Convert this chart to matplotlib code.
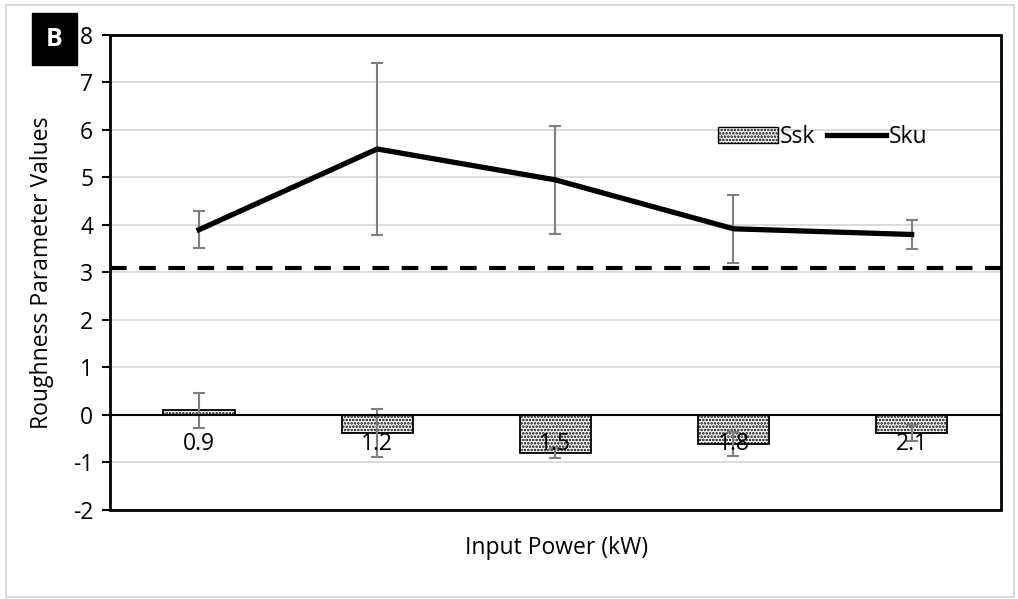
import matplotlib.pyplot as plt
from matplotlib.patches import Rectangle, Patch
from matplotlib.lines import Line2D

plt.rcParams['font.family'] = ['Open Sans', 'DejaVu Sans']
plt.rcParams['hatch.linewidth'] = 1.25

# data
power = ['0.9', '1.2', '1.5', '1.8', '2.1']
ssk = [0.10, -0.38, -0.80, -0.61, -0.38]
ssk_err = [0.37, 0.51, 0.11, 0.25, 0.16]
sku = [3.90, 5.60, 4.95, 3.92, 3.80]
sku_err = [0.39, 1.82, 1.13, 0.72, 0.30]
sku_ref = 3.1
yticks = [-2, -1, 0, 1, 2, 3, 4, 5, 6, 7, 8]

fs = 16.5

fig = plt.figure(figsize=(10.18, 5.99), dpi=100)
ax = fig.add_axes([0.108, 0.1486, 0.875, 0.793])

x = list(range(len(power)))
err_kw = dict(ecolor='#7f7f7f', elinewidth=1.5, capsize=4, capthick=1.5)

ax.bar(x, ssk, width=0.4, color='white', edgecolor='black', linewidth=1.3,
       hatch='.....', yerr=ssk_err, error_kw=err_kw, zorder=3)
ax.errorbar(x, sku, yerr=sku_err, color='black', lw=3.8, fmt='-',
            zorder=4, **err_kw)
ax.axhline(sku_ref, color='black', lw=3, ls=(0, (4, 3)), zorder=2)

ax.set_xlim(-0.5, len(power) - 0.5)
ax.set_ylim(-2, 8)
ax.set_yticks(yticks)
ax.set_yticklabels([str(v) for v in yticks], fontsize=fs)
ax.yaxis.grid(True, color='#d9d9d9', lw=1.3, zorder=0)
ax.set_axisbelow(True)

# x axis drawn at zero, frame drawn as a box
ax.spines['bottom'].set_position(('data', 0))
ax.spines['bottom'].set_linewidth(1.5)
ax.spines['bottom'].set_zorder(5)
ax.spines['top'].set_visible(False)
ax.spines['right'].set_visible(False)
ax.spines['left'].set_visible(False)
ax.add_patch(Rectangle((0, 0), 1, 1, transform=ax.transAxes, fill=False,
                       edgecolor='black', lw=2, zorder=6, clip_on=False))
ax.set_xticks(x)
ax.set_xticklabels(power, fontsize=fs)
ax.xaxis.set_zorder(3.5)
ax.tick_params(axis='x', length=0, pad=12)
ax.tick_params(axis='y', length=6, width=1.5, direction='out', pad=6)

ax.set_ylabel('Roughness Parameter Values', fontsize=fs)
ax.yaxis.set_label_coords(-0.063, 0.5)
fig.text(0.547, 0.085, 'Input Power (kW)', fontsize=fs, ha='center', va='center')

handles = [Patch(facecolor='white', edgecolor='black', hatch='.....', lw=1),
           Line2D([0], [0], color='black', lw=3.8)]
ax.legend(handles, ['Ssk', 'Sku'], loc='center', bbox_to_anchor=(0.80, 0.785),
          ncol=2, frameon=False, fontsize=fs, handlelength=2.6,
          handletextpad=0.1, columnspacing=0.5)

# panel tag
fig.text(0.0536, 0.9345, 'B', color='white', fontsize=18,
         fontweight='bold', ha='center', va='center',
         bbox=dict(boxstyle='square,pad=0.55', fc='black', ec='black'))

# outer light frame
fig.add_artist(Rectangle((0.006, 0.003), 0.99, 0.989, transform=fig.transFigure,
                         fill=False, edgecolor='#d9d9d9', lw=1.5))

fig.savefig('out.png', dpi=100)
